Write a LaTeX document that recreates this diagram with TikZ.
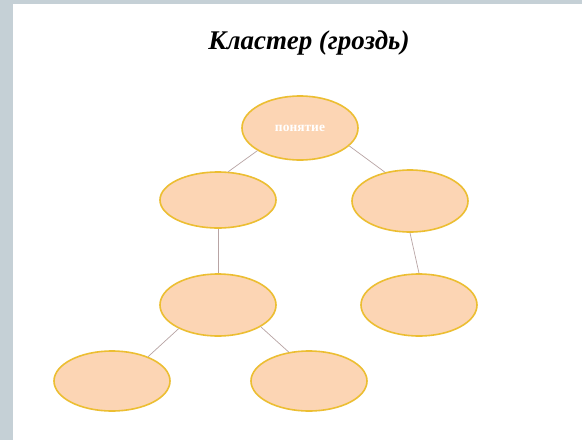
\documentclass[tikz,border=0pt]{standalone}
\usepackage{fontspec}
\setmainfont{Liberation Serif}
\usetikzlibrary{shapes.geometric}
\definecolor{frame}{RGB}{197,208,214}
\definecolor{peach}{RGB}{252,213,180}
\definecolor{gold}{RGB}{236,190,50}
\definecolor{twig}{RGB}{184,164,164}
\tikzset{
  bunch/.style={ellipse,draw=gold,line width=1.6pt,fill=peach,
    minimum width=116pt,minimum height=60pt,inner sep=0pt},
  twigline/.style={draw=twig,line width=0.7pt}
}
\begin{document}
\begin{tikzpicture}[x=1pt,y=-1pt]
  \useasboundingbox (0,0) rectangle (582,440);
  \fill[frame] (0,0) rectangle (582,440);
  \fill[white] (13,4) rectangle (582,440);
  \node (title) at (309,43) {\fontsize{27}{31}\selectfont\bfseries\itshape Кластер (гроздь)};
  % the bunch
  \node[bunch,minimum height=64pt] (top) at (300,128)
    {\color{white}\fontsize{13.5}{15}\selectfont\bfseries понятие};
  \node[bunch,minimum height=56pt] (ml) at (218,200) {};
  \node[bunch,minimum height=62pt] (mr) at (410,201) {};
  \node[bunch,minimum height=62pt] (ll) at (218,305) {};
  \node[bunch,minimum height=62pt] (lr) at (419,305) {};
  \node[bunch] (bl) at (112,381) {};
  \node[bunch] (br) at (309,381) {};
  % twigs
  \draw[twigline] (top.208) -- (ml.70);
  \draw[twigline] (top.340) -- (mr.131);
  \draw[twigline] (ml.south) -- (ll.north);
  \draw[twigline] (mr.south) -- (lr.north);
  \draw[twigline] (ll.211) -- (bl.34);
  \draw[twigline] (ll.333) -- (br.125);
\end{tikzpicture}
\end{document}
